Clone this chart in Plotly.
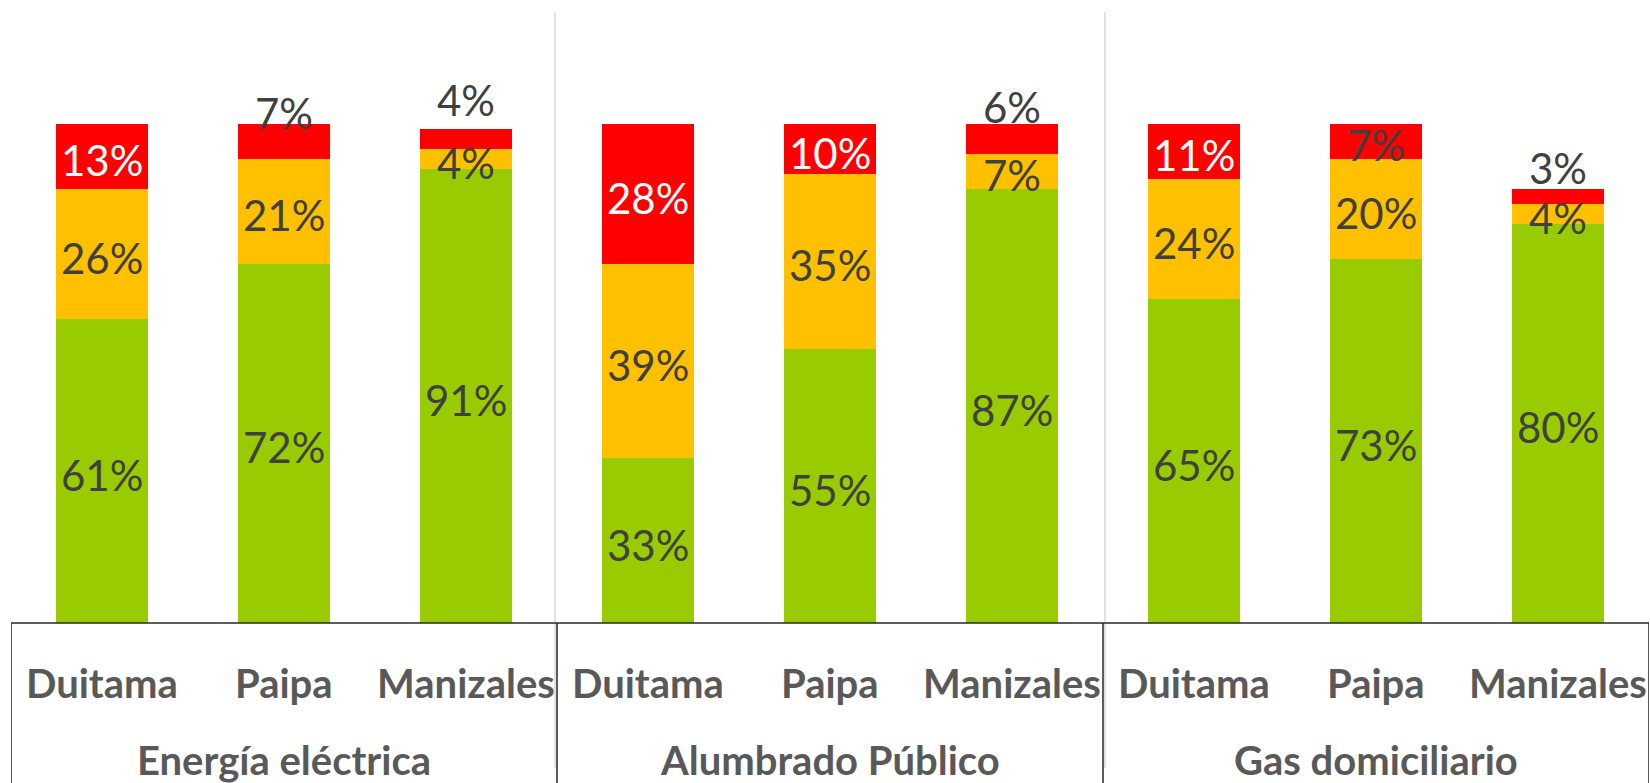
import plotly.graph_objects as go

groups = ["Energía eléctrica", "Alumbrado Público", "Gas domiciliario"]
cities = ["Duitama", "Paipa", "Manizales"]

green = [0.61, 0.72, 0.91, 0.33, 0.55, 0.87, 0.65, 0.73, 0.80]
orange = [0.26, 0.21, 0.04, 0.39, 0.35, 0.07, 0.24, 0.20, 0.04]
red = [0.13, 0.07, 0.04, 0.28, 0.10, 0.06, 0.11, 0.07, 0.03]

# label styling (not data)
red_label_white = [True, False, False, True, True, False, True, False, False]
red_label_shift = [0, 32, 43, 0, 0, 36, 0, 0, 32]

C_GREEN = "#99CC00"
C_ORANGE = "#FFC000"
C_RED = "#FF0000"
TXT = "#404040"
LBL = "#595959"
FONT = "Lato"

xcat = [f"{g} | {c}" for g in groups for c in cities]

fig = go.Figure()
for vals, col, name in [(green, C_GREEN, "Alto"), (orange, C_ORANGE, "Medio"), (red, C_RED, "Bajo")]:
    fig.add_trace(go.Bar(x=xcat, y=vals, name=name, marker=dict(color=col, line=dict(width=0)),
                         width=0.51, hoverinfo="skip"))

ann = []
for i, x in enumerate(xcat):
    g, o, r = green[i], orange[i], red[i]
    ann.append(dict(x=x, y=g / 2, text=f"{round(g*100)}%", showarrow=False, yshift=-4,
                    font=dict(family=FONT, size=42, color=TXT)))
    ann.append(dict(x=x, y=g + o / 2, text=f"{round(o*100)}%", showarrow=False, yshift=-4,
                    font=dict(family=FONT, size=42, color=TXT)))
    ann.append(dict(x=x, y=g + o + r / 2, text=f"{round(r*100)}%", showarrow=False,
                    yshift=red_label_shift[i] - 4,
                    font=dict(family=FONT, size=42, color="white" if red_label_white[i] else TXT)))

# category labels
for gi, g in enumerate(groups):
    for ci, c in enumerate(cities):
        ann.append(dict(x=xcat[gi * 3 + ci], y=0, yref="paper", yanchor="middle", yshift=-60,
                        text=f"<b>{c}</b>", showarrow=False,
                        font=dict(family=FONT, size=40, color=LBL)))
    ann.append(dict(x=xcat[gi * 3 + 1], y=0, yref="paper", yanchor="middle", yshift=-137,
                    text=f"<b>{g}</b>", showarrow=False,
                    font=dict(family=FONT, size=40, color=LBL)))

shapes = []
# gray separators between groups
for sep, dx in [(2.5, -2), (5.5, 2)]:
    shapes.append(dict(type="line", xref="x", yref="paper", xsizemode="pixel", xanchor=sep,
                       x0=dx, x1=dx, y0=1.0, y1=-0.237, line=dict(color="#D9D9D9", width=1.5)))
# category box
shapes.append(dict(type="line", xref="paper", yref="paper", x0=0, x1=1, y0=0, y1=0,
                   line=dict(color="#262626", width=1.5)))
for xv in [-0.5, 2.5, 5.5, 8.5]:
    shapes.append(dict(type="line", xref="x", yref="paper", x0=xv, x1=xv, y0=0, y1=-0.3,
                       line=dict(color="#262626", width=1.5)))

fig.update_layout(
    barmode="stack",
    width=1650, height=783,
    margin=dict(l=11, r=1, t=12, b=160),
    plot_bgcolor="white", paper_bgcolor="white",
    showlegend=False,
    annotations=ann,
    shapes=shapes,
    xaxis=dict(type="category", range=[-0.5, 8.5], showticklabels=False, showgrid=False,
               zeroline=False, showline=False, ticks=""),
    yaxis=dict(range=[0, 1.2244], visible=False, showgrid=False, zeroline=False),
)

fig.write_html("out.html", config={"displayModeBar": False},
               post_script="document.body.style.margin='0';document.body.style.overflow='hidden';")
